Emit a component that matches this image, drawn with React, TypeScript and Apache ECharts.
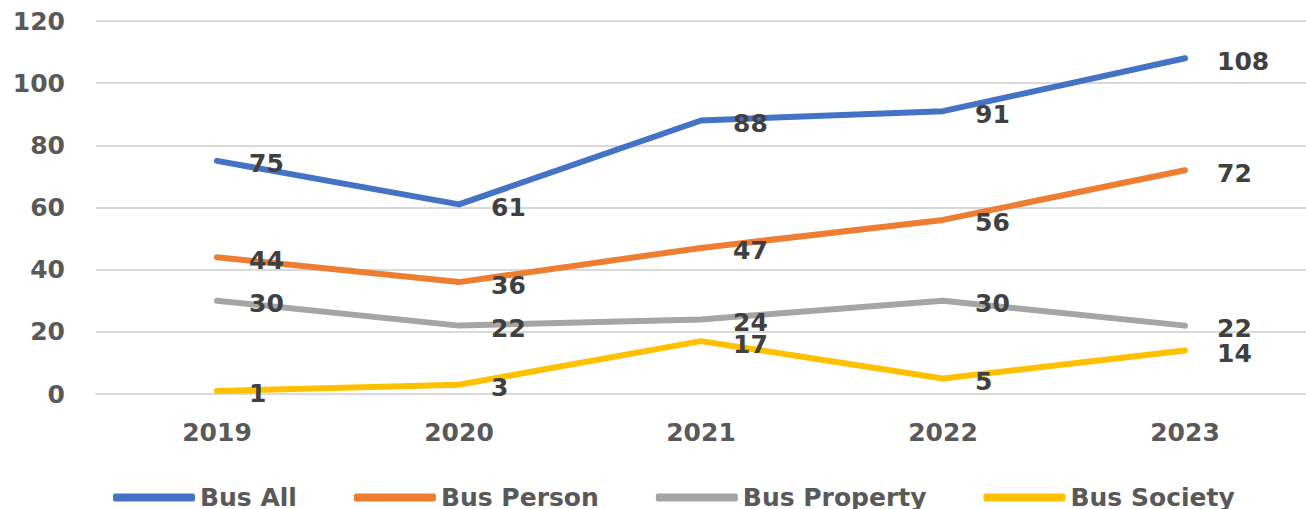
import React, { useEffect, useRef } from "react";
import * as echarts from "echarts";

const categories = ["2019", "2020", "2021", "2022", "2023"];
const busAll = [75, 61, 88, 91, 108];
const busPerson = [44, 36, 47, 56, 72];
const busProperty = [30, 22, 24, 30, 22];
const busSociety = [1, 3, 17, 5, 14];
const seriesNames = ["Bus All", "Bus Person", "Bus Property", "Bus Society"];
const seriesColors = ["#4472C4", "#ED7D31", "#A5A5A5", "#FFC000"];

const FONT = "DejaVu Sans";

export default function App() {
  const ref = useRef<HTMLDivElement>(null);
  useEffect(() => {
    if (!ref.current) return;
    const chart = echarts.init(ref.current, null, { renderer: "svg" });
    const datasets = [busAll, busPerson, busProperty, busSociety];
    chart.setOption({
      animation: false,
      backgroundColor: "#ffffff",
      grid: { left: 96, right: 0, top: 21, bottom: 115, containLabel: false },
      legend: {
        data: seriesNames,
        left: 113,
        top: 485,
        padding: 0,
        icon: "roundRect",
        itemWidth: 82,
        itemHeight: 8,
        itemGap: 57,
        textStyle: { fontFamily: FONT, fontWeight: "bold", fontSize: 25, color: "#595959" },
      },
      xAxis: {
        type: "category",
        data: categories,
        boundaryGap: true,
        axisLine: { show: true, lineStyle: { color: "#D9D9D9", width: 2 } },
        axisTick: { show: false },
        axisLabel: { fontFamily: FONT, fontWeight: "bold", fontSize: 25, color: "#595959", margin: 26 },
      },
      yAxis: {
        type: "value",
        min: 0,
        max: 120,
        interval: 20,
        axisLine: { show: false },
        axisTick: { show: false },
        splitLine: { lineStyle: { color: "#D9D9D9", width: 2 } },
        axisLabel: { fontFamily: FONT, fontWeight: "bold", fontSize: 25, color: "#595959", margin: 31 },
      },
      series: datasets.map((d, i) => ({
        name: seriesNames[i],
        type: "line",
        data: d,
        symbol: "circle",
        symbolSize: 0.1,
        showSymbol: true,
        itemStyle: { color: seriesColors[i] },
        lineStyle: { color: seriesColors[i], width: 6, cap: "round", join: "round" },
        label: {
          show: true,
          position: "right",
          distance: 32,
          offset: [0, 3],
          fontFamily: FONT,
          fontWeight: "bold",
          fontSize: 25,
          color: "#404040",
        },
      })),
    });
    return () => chart.dispose();
  }, []);
  return (
    <div
      ref={ref}
      style={{ position: "fixed", left: 0, top: 0, width: 1306, height: 509 }}
    />
  );
}
